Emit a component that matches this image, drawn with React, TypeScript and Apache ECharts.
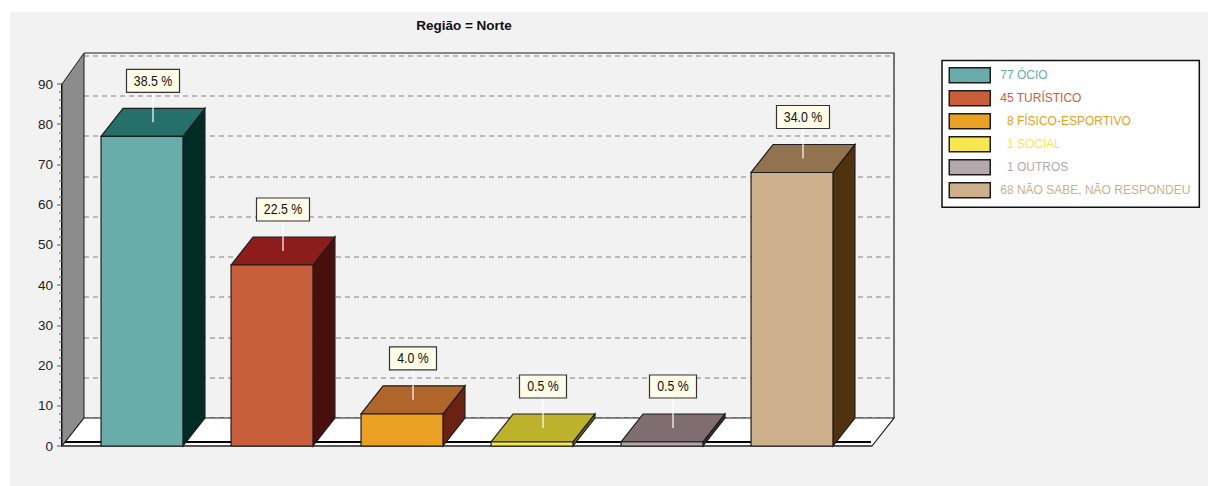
import React, { useEffect, useRef } from "react";
import * as echarts from "echarts";

const categories = ["77 ÓCIO", "45 TURÍSTICO", "  8 FÍSICO-ESPORTIVO", "  1 SOCIAL", "  1 OUTROS", "68 NÃO SABE, NÃO RESPONDEU"];
const values = [77, 45, 8, 1, 1, 68];
const percents = ["38.5 %", "22.5 %", "4.0 %", "0.5 %", "0.5 %", "34.0 %"];
const frontColors = ["#68ADA9", "#C85F3A", "#E9A023", "#F7E84F", "#B5A8AC", "#CDAF8C"];
const topColors = ["#26706B", "#8C1D1A", "#B0662A", "#BDB22C", "#7F6D72", "#937250"];
const sideColors = ["#012C26", "#48100D", "#6B2210", "#6E6A1A", "#3A2F33", "#50320F"];
const yTicks = { min: 0, max: 90, interval: 10 };

const FONT = "'Liberation Sans', Arial, sans-serif";
const DX = 22;
const DY = -28;
const EDGE = "#1c1c1c";

function renderWalls(params: any) {
  const cs = params.coordSys;
  const left = cs.x - 15;
  const right = cs.x + cs.width + 15;
  const top = cs.y;
  const bottom = cs.y + cs.height;
  return {
    type: "group",
    children: [
      {
        type: "polygon",
        shape: { points: [[left, bottom], [left + DX, bottom + DY], [left + DX, top + DY - 3], [left, top]] },
        style: { fill: "#8C8C8C", stroke: EDGE, lineWidth: 1 },
      },
      {
        type: "polygon",
        shape: { points: [[left, bottom], [left + DX, bottom + DY], [right + DX, bottom + DY], [right, bottom]] },
        style: { fill: "#FFFFFF", stroke: EDGE, lineWidth: 1.2 },
      },
      {
        type: "polyline",
        shape: { points: [[left + DX, top + DY - 3], [right + DX, top + DY - 3], [right + DX, bottom + DY]] },
        style: { fill: "none", stroke: EDGE, lineWidth: 1.2 },
      },
      {
        type: "line",
        shape: { x1: left + 3, y1: bottom - 4, x2: right - 1, y2: bottom - 4 },
        style: { stroke: "#000", lineWidth: 2 },
      },
      {
        type: "line",
        shape: { x1: left, y1: bottom, x2: right, y2: bottom },
        style: { stroke: "#444", lineWidth: 1.5 },
      },
    ],
  };
}

function renderBar(params: any, api: any) {
  const i = api.value(0);
  const [cx, y] = api.coord([i, api.value(1)]);
  const [, y0] = api.coord([i, 0]);
  const w = api.size([1, 0])[0] * 0.63;
  const l = cx - w / 2;
  const r = cx + w / 2;
  const stroke = { stroke: EDGE, lineWidth: 1.2 };
  const mx = cx + DX / 2;
  const my = y + DY / 2;
  const boxW = percents[i].length > 5 ? 53 : 47;
  const boxH = 23;
  const boxBottom = my - 30;
  return {
    type: "group",
    children: [
      {
        type: "polygon",
        shape: { points: [[r, y], [r + DX, y + DY], [r + DX, y0 + DY], [r, y0]] },
        style: { fill: sideColors[i], ...stroke },
      },
      {
        type: "polygon",
        shape: { points: [[l, y], [l + DX, y + DY], [r + DX, y + DY], [r, y]] },
        style: { fill: topColors[i], ...stroke },
      },
      {
        type: "rect",
        shape: { x: l, y, width: w, height: y0 - y },
        style: { fill: frontColors[i], ...stroke },
      },
      {
        type: "line",
        shape: { x1: mx, y1: boxBottom, x2: mx, y2: my },
        style: { stroke: "#FFFFFF", lineWidth: 1.2 },
      },
      {
        type: "rect",
        shape: { x: mx - boxW / 2, y: boxBottom - boxH, width: boxW, height: boxH },
        style: { fill: "#FFFDE8", stroke: "#333", lineWidth: 1.2 },
      },
      {
        type: "text",
        x: mx,
        y: boxBottom - boxH / 2,
        scaleX: 0.88,
        style: {
          x: 0,
          y: 0,
          text: percents[i],
          align: "center",
          verticalAlign: "middle",
          fill: "#111",
          font: `14px ${FONT}`,
        },
      },
    ],
  };
}

export default function App() {
  const ref = useRef<HTMLDivElement>(null);
  useEffect(() => {
    const chart = echarts.init(ref.current!, undefined, { renderer: "svg" });
    chart.setOption({
      animation: false,
      backgroundColor: "#FFFFFF",
      graphic: [
        {
          type: "rect",
          z: -10,
          shape: { x: 10, y: 12, width: 1198, height: 474 },
          style: { fill: "#F2F2F2" },
        },
      ],
      title: {
        text: "Região = Norte",
        left: 459,
        top: 13,
        textAlign: "center",
        textStyle: { fontFamily: FONT, fontSize: 13.5, fontWeight: "bold", color: "#111" },
      },
      legend: {
        orient: "vertical",
        left: 942,
        top: 60.5,
        padding: [6.5, 9, 8.75, 6.5],
        backgroundColor: "#FFFFFF",
        borderColor: "#111",
        borderWidth: 1.5,
        icon: "rect",
        itemWidth: 41,
        itemHeight: 15,
        itemGap: 6.5,
        selectedMode: false,
        itemStyle: { borderColor: "#1c1c1c", borderWidth: 1.5 },
        data: categories.map((name, i) => ({
          name,
          textStyle: { color: frontColors[i], fontFamily: FONT, fontSize: 12, padding: [0, 0, 0, 5] },
        })),
      },
      grid: [
        { left: 77, top: 84, width: 780, height: 362 },
        { left: 84, top: 55.7, width: 810, height: 362 },
      ],
      xAxis: [
        { type: "category", gridIndex: 0, data: categories, show: false },
        { type: "category", gridIndex: 1, data: categories, show: false },
      ],
      yAxis: [
        {
          type: "value",
          gridIndex: 0,
          ...yTicks,
          offset: 15,
          axisLine: { show: true, lineStyle: { color: "#000", width: 2 } },
          axisTick: { show: true, length: 5, lineStyle: { color: "#888", width: 1.5 } },
          minorTick: { show: true, splitNumber: 5, length: 3, lineStyle: { color: "#888", width: 1.5 } },
          axisLabel: { color: "#222", fontFamily: FONT, fontSize: 13.5, margin: 9 },
          splitLine: { show: false },
        },
        {
          type: "value",
          gridIndex: 1,
          ...yTicks,
          axisLine: { show: false },
          axisTick: { show: false },
          axisLabel: { show: false },
          splitLine: { show: true, lineStyle: { type: [5, 4], color: "#A6A6A6", width: 1.5 } },
        },
      ],
      series: [
        {
          type: "custom",
          name: "walls",
          xAxisIndex: 0,
          yAxisIndex: 0,
          z: 1,
          silent: true,
          clip: false,
          renderItem: renderWalls,
          data: [[0, 0]],
          encode: { x: 0, y: 1 },
        },
        ...categories.map((name, i) => ({
          type: "custom",
          name,
          xAxisIndex: 0,
          yAxisIndex: 0,
          z: 3,
          silent: true,
          clip: false,
          itemStyle: { color: frontColors[i] },
          renderItem: renderBar,
          data: [[i, values[i]]],
          encode: { x: 0, y: 1 },
        })),
      ],
    });
    return () => chart.dispose();
  }, []);
  return <div ref={ref} style={{ position: "absolute", left: 0, top: 0, width: 1208, height: 486 }} />;
}
